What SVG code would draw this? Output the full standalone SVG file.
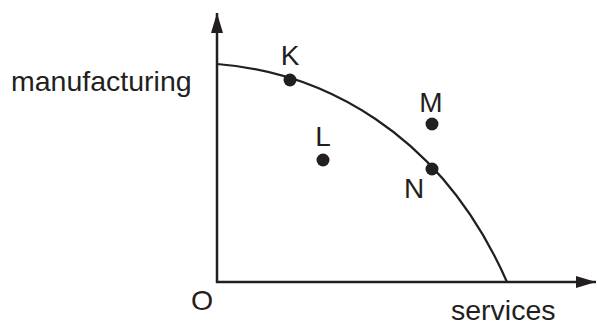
<svg xmlns="http://www.w3.org/2000/svg" width="597" height="325" viewBox="0 0 597 325">
<style>
.ax{stroke:#231f20;stroke-width:2.5;fill:none}
.cv{stroke:#231f20;stroke-width:2.2;fill:none}
.dot{fill:#231f20}
text{font-family:"Liberation Sans",Arial,sans-serif;fill:#231f20}
.lb{font-size:28px;text-anchor:middle}
.ax-lb{font-size:28.5px}
</style>
<defs>
<marker id="arr" viewBox="0 0 20 12" refX="20" refY="6" markerWidth="20" markerHeight="12" markerUnits="userSpaceOnUse" orient="auto">
<path d="M0,0 L20,6 L0,12 Z" fill="#231f20"/>
</marker>
</defs>
<g id="connectors">
<path class="ax" d="M217,283 L217,13" marker-end="url(#arr)"/>
<path class="ax" d="M216,282 L596,282" marker-end="url(#arr)"/>
<path class="cv" d="M217,64 C320,72 440,130 507,282"/>
</g>
<g id="axis-labels">
<text class="ax-lb" x="11" y="91">manufacturing</text>
<text class="ax-lb" x="451" y="320">services</text>
<text class="ax-lb" x="202" y="310" text-anchor="middle">O</text>
</g>
<g id="K"><circle class="dot" cx="290" cy="80" r="6.5"/><text class="lb" x="290" y="65">K</text></g>
<g id="L"><circle class="dot" cx="323" cy="160" r="6.5"/><text class="lb" x="323" y="146">L</text></g>
<g id="M"><circle class="dot" cx="432" cy="124" r="6.5"/><text class="lb" x="431" y="112">M</text></g>
<g id="N"><circle class="dot" cx="432" cy="169" r="6.5"/><text class="lb" x="414" y="198">N</text></g>
</svg>
